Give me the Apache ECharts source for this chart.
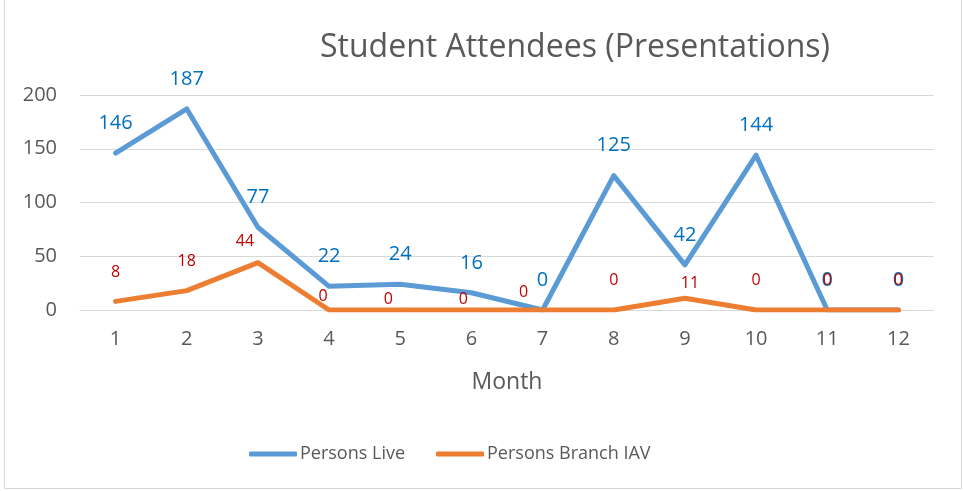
<!DOCTYPE html>
<html>
<head>
<meta charset="utf-8">
<script src="https://cdn.jsdelivr.net/npm/echarts@6/dist/echarts.min.js"></script>
<style>
  html, body { margin: 0; padding: 0; background: #fff; }
  #main { width: 963px; height: 491px; }
</style>
</head>
<body>
<div id="main"></div>
<script>
var months = ['1', '2', '3', '4', '5', '6', '7', '8', '9', '10', '11', '12'];
var personsLive = [146, 187, 77, 22, 24, 16, 0, 125, 42, 144, 0, 0];
var personsBranch = [8, 18, 44, 0, 0, 0, 0, 0, 11, 0, 0, 0];
var yTicks = [0, 50, 100, 150, 200];

// the orange labels were nudged by hand in the original: [dx, gap above point]
var branchLabelDx = [0, 0, -13, -6, -12, -8, -19, 0, 5, 0, 0, 0];
var branchLabelGap = [20, 20, 12, 5, 2, 2, 9, 21, 6, 21, 21, 21];

var font = '"Open Sans", "Noto Sans", sans-serif';
var grey = '#595959';

var dom = document.getElementById('main');
var myChart = echarts.init(dom);

var option = {
    animation: false,
    textStyle: { fontFamily: font },
    title: {
        text: 'Student Attendees (Presentations)',
        left: 315,
        top: 27,
        textStyle: { color: grey, fontSize: 32, fontWeight: 'normal', fontFamily: font }
    },
    graphic: [{
        type: 'rect',
        shape: { x: 4.5, y: -2, width: 957, height: 490.5 },
        style: { fill: 'none', stroke: '#D9D9D9', lineWidth: 1 },
        silent: true
    }],
    legend: {
        bottom: 23,
        left: 244,
        itemWidth: 48,
        itemHeight: 5,
        itemGap: 31,
        icon: 'roundRect',
        textStyle: { color: grey, fontSize: 18, fontFamily: font, padding: [0, 0, 0, -2] },
        data: ['Persons Live', 'Persons Branch IAV']
    },
    grid: {
        left: 80,
        right: 29,
        top: 95,
        bottom: 181
    },
    xAxis: {
        type: 'category',
        data: months,
        name: 'Month',
        nameLocation: 'middle',
        nameGap: 61,
        nameTextStyle: { color: grey, fontSize: 23, fontFamily: font },
        axisLine: { show: true, lineStyle: { color: '#D9D9D9' } },
        axisTick: { show: false },
        axisLabel: { color: grey, fontSize: 20, margin: 19, fontFamily: font }
    },
    yAxis: {
        type: 'value',
        min: yTicks[0],
        max: yTicks[yTicks.length - 1],
        interval: 50,
        axisLine: { show: false },
        axisTick: { show: false },
        axisLabel: { color: grey, fontSize: 20, margin: 23, fontFamily: font },
        splitLine: { lineStyle: { color: '#D9D9D9', width: 1 } }
    },
    series: [{
        name: 'Persons Live',
        type: 'line',
        data: personsLive,
        showSymbol: true,
        symbol: 'circle',
        symbolSize: 2,
        color: '#5B9BD5',
        itemStyle: { color: '#5B9BD5' },
        lineStyle: { width: 5, color: '#5B9BD5', cap: 'round', join: 'round' },
        label: {
            show: true,
            position: 'top',
            distance: 19,
            color: '#0070C0',
            fontSize: 20,
            fontFamily: font
        },
        z: 2
    }, {
        name: 'Persons Branch IAV',
        type: 'line',
        data: personsBranch.map(function (v, i) {
            return {
                value: v,
                label: { distance: branchLabelGap[i], offset: [branchLabelDx[i], 0] }
            };
        }),
        showSymbol: true,
        symbol: 'circle',
        symbolSize: 2,
        color: '#ED7D31',
        itemStyle: { color: '#ED7D31' },
        lineStyle: { width: 5, color: '#ED7D31', cap: 'round', join: 'round' },
        label: {
            show: true,
            position: 'top',
            color: '#C00000',
            fontSize: 16,
            fontFamily: font
        },
        z: 3
    }]
};

myChart.setOption(option, true);
window.addEventListener('resize', function () {
    myChart.resize();
});
</script>
</body>
</html>
